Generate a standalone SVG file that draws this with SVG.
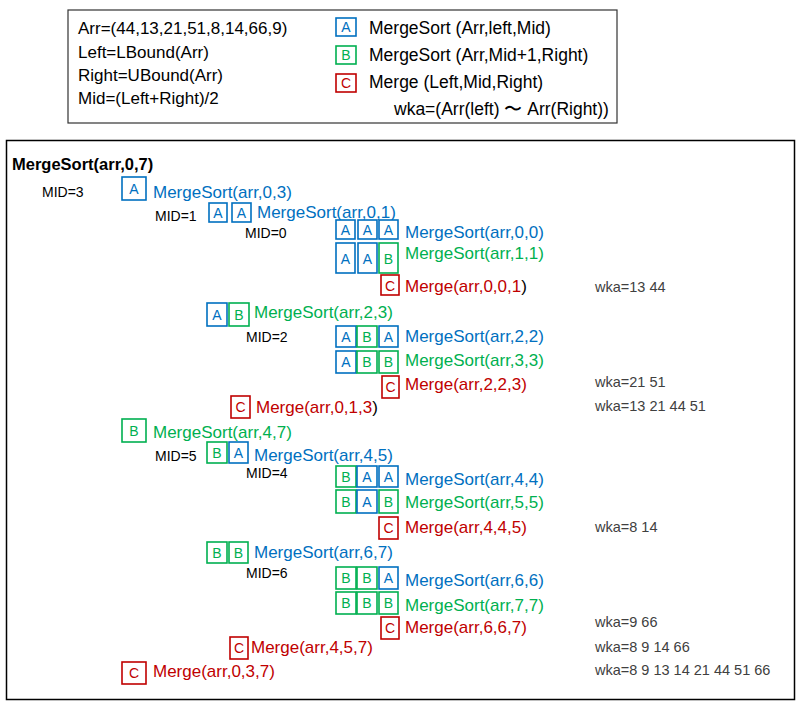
<svg xmlns="http://www.w3.org/2000/svg" width="798" height="705" viewBox="0 0 798 705">
<style>
text{font-family:"Liberation Sans",Arial,sans-serif}
.frame{fill:#fff;stroke:#000;stroke-width:1.5}
.leg{fill:#fff;stroke:#333;stroke-width:1.2}
.bx{fill:#fff;stroke-width:1.6}
.ba{stroke:#0070C0}.bb{stroke:#00B050}.bc{stroke:#C00000}
.lt{font-size:14px;text-anchor:middle}
.ta{fill:#0070C0}.tb{fill:#00B050}.tc{fill:#C00000}.tk{fill:#000}
.m{font-size:17px}
.lg{font-size:17px;fill:#000}
.lr{font-size:17.5px;fill:#000}
.mid{font-size:14px;fill:#000}
.wka{font-size:14.5px;fill:#404040}
.title{font-size:16.5px;font-weight:bold;fill:#000}
</style>
<rect x="0" y="0" width="798" height="705" fill="#fff"/>

<g id="legend">
<rect class="leg" x="68" y="10" width="549" height="113"/>
<text class="lg" x="78" y="34">Arr=(44,13,21,51,8,14,66,9)</text>
<text class="lg" x="78" y="58">Left=LBound(Arr)</text>
<text class="lg" x="78" y="81">Right=UBound(Arr)</text>
<text class="lg" x="78" y="104">Mid=(Left+Right)/2</text>
<rect class="bx ba" x="336" y="18" width="20" height="18"/><text class="lt ta" x="346" y="32">A</text>
<rect class="bx bb" x="336" y="46" width="20" height="18"/><text class="lt tb" x="346" y="60">B</text>
<rect class="bx bc" x="336" y="74" width="20" height="18"/><text class="lt tc" x="346" y="88">C</text>
<text class="lr" x="369" y="34">MergeSort (Arr,left,Mid)</text>
<text class="lr" x="369" y="61">MergeSort (Arr,Mid+1,Right)</text>
<text class="lr" x="369" y="88">Merge (Left,Mid,Right)</text>
<text class="lr" x="394" y="115" font-family="Liberation Sans, Noto Sans CJK JP, sans-serif">wka=(Arr(left) 〜 Arr(Right))</text>
</g>

<rect class="frame" x="6.5" y="140.5" width="788" height="559"/>

<g id="main">
<text class="title" x="12" y="170">MergeSort(arr,0,7)</text>

<g id="r2">
<text class="mid" x="42" y="197">MID=3</text>
<rect class="bx ba" x="122" y="177" width="24" height="23"/><text class="lt ta" x="134" y="194">A</text>
<text class="m ta" x="153" y="198">MergeSort(arr,0,3)</text>
</g>

<g id="r3">
<text class="mid" x="155" y="221">MID=1</text>
<rect class="bx ba" x="209" y="203" width="18" height="19"/><text class="lt ta" x="218" y="218">A</text>
<rect class="bx ba" x="232" y="203" width="19" height="19"/><text class="lt ta" x="241.5" y="218">A</text>
<text class="m ta" x="257" y="218">MergeSort(arr,0,1)</text>
</g>

<g id="r4">
<text class="mid" x="245" y="238">MID=0</text>
<rect class="bx ba" x="336" y="220" width="19" height="19"/><text class="lt ta" x="345.5" y="235">A</text>
<rect class="bx ba" x="358" y="220" width="19" height="19"/><text class="lt ta" x="367.5" y="235">A</text>
<rect class="bx ba" x="379" y="220" width="19" height="19"/><text class="lt ta" x="388.5" y="235">A</text>
<text class="m ta" x="405" y="238">MergeSort(arr,0,0)</text>
</g>

<g id="r5">
<rect class="bx ba" x="336" y="243" width="19" height="30"/><text class="lt ta" x="345.5" y="264">A</text>
<rect class="bx ba" x="358" y="243" width="19" height="30"/><text class="lt ta" x="367.5" y="264">A</text>
<rect class="bx bb" x="379" y="243" width="19" height="30"/><text class="lt tb" x="388.5" y="264">B</text>
<text class="m tb" x="405" y="259">MergeSort(arr,1,1)</text>
</g>

<g id="r6">
<rect class="bx bc" x="381" y="275" width="18" height="20"/><text class="lt tc" x="390" y="291">C</text>
<text class="m" x="405" y="292"><tspan class="tc">Merge(arr,0,0,1</tspan><tspan class="tk">)</tspan></text>
<text class="wka" x="595" y="292">wka=13 44</text>
</g>

<g id="r7">
<rect class="bx ba" x="207" y="303" width="20" height="23"/><text class="lt ta" x="217" y="320">A</text>
<rect class="bx bb" x="229" y="303" width="20" height="23"/><text class="lt tb" x="239" y="320">B</text>
<text class="m tb" x="254" y="318">MergeSort(arr,2,3)</text>
</g>

<g id="r8">
<text class="mid" x="246" y="342">MID=2</text>
<rect class="bx ba" x="336" y="326" width="20" height="21"/><text class="lt ta" x="346" y="342">A</text>
<rect class="bx bb" x="357" y="326" width="20" height="21"/><text class="lt tb" x="367" y="342">B</text>
<rect class="bx ba" x="379" y="326" width="19" height="21"/><text class="lt ta" x="388.5" y="342">A</text>
<text class="m ta" x="405" y="342">MergeSort(arr,2,2)</text>
</g>

<g id="r9">
<rect class="bx ba" x="336" y="351" width="20" height="22"/><text class="lt ta" x="346" y="367">A</text>
<rect class="bx bb" x="357" y="351" width="20" height="22"/><text class="lt tb" x="367" y="367">B</text>
<rect class="bx bb" x="379" y="351" width="19" height="22"/><text class="lt tb" x="388.5" y="367">B</text>
<text class="m tb" x="405" y="366">MergeSort(arr,3,3)</text>
</g>

<g id="r10">
<rect class="bx bc" x="382" y="376" width="17" height="22"/><text class="lt tc" x="390.5" y="392">C</text>
<text class="m tc" x="405" y="390">Merge(arr,2,2,3)</text>
<text class="wka" x="595" y="387">wka=21 51</text>
</g>

<g id="r11">
<rect class="bx bc" x="231" y="396" width="19" height="22"/><text class="lt tc" x="240.5" y="412">C</text>
<text class="m" x="256" y="413"><tspan class="tc">Merge(arr,0,1,3</tspan><tspan class="tk">)</tspan></text>
<text class="wka" x="595" y="411">wka=13 21 44 51</text>
</g>

<g id="r12">
<rect class="bx bb" x="122" y="419" width="24" height="23"/><text class="lt tb" x="134" y="436">B</text>
<text class="m tb" x="153" y="438">MergeSort(arr,4,7)</text>
</g>

<g id="r13">
<text class="mid" x="155" y="461">MID=5</text>
<rect class="bx bb" x="207" y="442" width="20" height="21"/><text class="lt tb" x="217" y="458">B</text>
<rect class="bx ba" x="229" y="442" width="19" height="21"/><text class="lt ta" x="238.5" y="458">A</text>
<text class="m ta" x="254" y="461">MergeSort(arr,4,5)</text>
</g>

<g id="r14">
<text class="mid" x="246" y="478">MID=4</text>
<rect class="bx bb" x="336" y="466" width="20" height="21"/><text class="lt tb" x="346" y="482">B</text>
<rect class="bx ba" x="357" y="466" width="20" height="21"/><text class="lt ta" x="367" y="482">A</text>
<rect class="bx ba" x="379" y="466" width="19" height="21"/><text class="lt ta" x="388.5" y="482">A</text>
<text class="m ta" x="405" y="485">MergeSort(arr,4,4)</text>
</g>

<g id="r15">
<rect class="bx bb" x="336" y="490" width="20" height="23"/><text class="lt tb" x="346" y="507">B</text>
<rect class="bx ba" x="357" y="490" width="20" height="23"/><text class="lt ta" x="367" y="507">A</text>
<rect class="bx bb" x="379" y="490" width="19" height="23"/><text class="lt tb" x="388.5" y="507">B</text>
<text class="m tb" x="405" y="508">MergeSort(arr,5,5)</text>
</g>

<g id="r16">
<rect class="bx bc" x="379" y="517" width="19" height="22"/><text class="lt tc" x="388.5" y="533">C</text>
<text class="m tc" x="405" y="533">Merge(arr,4,4,5)</text>
<text class="wka" x="595" y="532">wka=8 14</text>
</g>

<g id="r17">
<rect class="bx bb" x="207" y="542" width="20" height="21"/><text class="lt tb" x="217" y="558">B</text>
<rect class="bx bb" x="229" y="542" width="19" height="21"/><text class="lt tb" x="238.5" y="558">B</text>
<text class="m ta" x="254" y="558">MergeSort(arr,6,7)</text>
</g>

<g id="r18">
<text class="mid" x="246" y="578">MID=6</text>
<rect class="bx bb" x="336" y="567" width="20" height="22"/><text class="lt tb" x="346" y="583">B</text>
<rect class="bx bb" x="357" y="567" width="20" height="22"/><text class="lt tb" x="367" y="583">B</text>
<rect class="bx ba" x="379" y="567" width="19" height="22"/><text class="lt ta" x="388.5" y="583">A</text>
<text class="m ta" x="405" y="586">MergeSort(arr,6,6)</text>
</g>

<g id="r19">
<rect class="bx bb" x="336" y="592" width="20" height="22"/><text class="lt tb" x="346" y="608">B</text>
<rect class="bx bb" x="357" y="592" width="20" height="22"/><text class="lt tb" x="367" y="608">B</text>
<rect class="bx bb" x="379" y="592" width="19" height="22"/><text class="lt tb" x="388.5" y="608">B</text>
<text class="m tb" x="405" y="611">MergeSort(arr,7,7)</text>
</g>

<g id="r20">
<rect class="bx bc" x="381" y="617" width="18" height="22"/><text class="lt tc" x="390" y="633">C</text>
<text class="m tc" x="405" y="633">Merge(arr,6,6,7)</text>
<text class="wka" x="595" y="627">wka=9 66</text>
</g>

<g id="r21">
<rect class="bx bc" x="230" y="637" width="18" height="22"/><text class="lt tc" x="239" y="653">C</text>
<text class="m tc" x="251" y="653">Merge(arr,4,5,7)</text>
<text class="wka" x="595" y="652">wka=8 9 14 66</text>
</g>

<g id="r22">
<rect class="bx bc" x="122" y="662" width="24" height="22"/><text class="lt tc" x="134" y="678">C</text>
<text class="m tc" x="153" y="677">Merge(arr,0,3,7)</text>
<text class="wka" x="595" y="675">wka=8 9 13 14 21 44 51 66</text>
</g>
</g>
</svg>
